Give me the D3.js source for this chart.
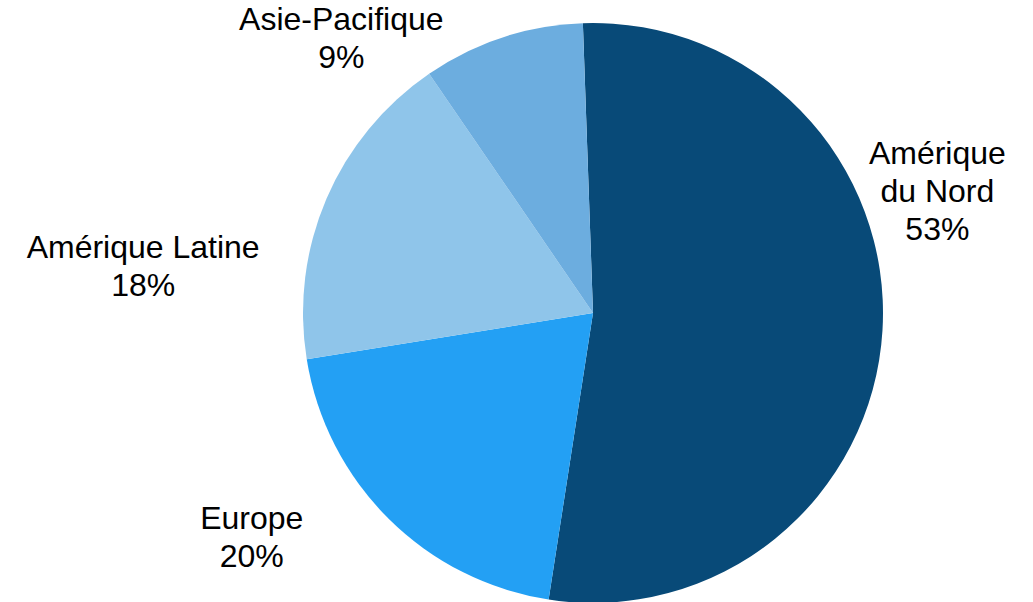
<!DOCTYPE html>
<html>
<head>
<meta charset="utf-8">
<script src="https://cdn.jsdelivr.net/npm/d3@7"></script>
<style>
  body { margin: 0; background: #fff; }
  svg { display: block; }
</style>
</head>
<body>
<script>
// regions and share of total (%)
var regions = ["Amérique du Nord", "Europe", "Amérique Latine", "Asie-Pacifique"];
var shares = [53, 20, 18, 9];
var labelLines = [["Amérique", "du Nord"], ["Europe"], ["Amérique Latine"], ["Asie-Pacifique"]];
var colors = ["#084a78", "#23a0f4", "#8fc5ea", "#6caddf"];

var width = 1033, height = 602;
var cx = 593, cy = 313, radius = 290;
var startDeg = -2;

// where the labels sit, relative to the mid-angle point on the label ring
var labelRadius = 348;
var labelNudge = [[-3, -143], [-96, -23], [-130, 90], [-143, 55]];
var lineH = 38, capH = 23;

var svg = d3.select("body").append("svg").attr("width", width).attr("height", height);

var data = regions.map(function (r, i) { return { region: r, value: shares[i], i: i }; });

var pie = d3.pie()
  .value(function (d) { return d.value; })
  .sort(null)
  .startAngle(startDeg * Math.PI / 180)
  .endAngle((startDeg + 360) * Math.PI / 180);

var arc = d3.arc().innerRadius(0).outerRadius(radius);
var labelArc = d3.arc().innerRadius(labelRadius).outerRadius(labelRadius);

var g = svg.append("g").attr("transform", "translate(" + cx + "," + cy + ")");

var arcs = pie(data);

g.selectAll("path").data(arcs).enter().append("path")
  .attr("d", arc)
  .attr("fill", function (d) { return colors[d.data.i]; });

var labels = g.selectAll("text.lbl").data(arcs).enter().append("text")
  .attr("class", "lbl")
  .attr("text-anchor", "middle")
  .style("font-family", "'Liberation Sans', Arial, Helvetica, sans-serif")
  .style("font-size", "32px")
  .attr("fill", "#000")
  .attr("transform", function (d) {
    var c = labelArc.centroid(d);
    var n = labelNudge[d.data.i];
    return "translate(" + (c[0] + n[0]) + "," + (c[1] + n[1]) + ")";
  });

labels.each(function (d) {
  var lines = labelLines[d.data.i].concat([d.data.value + "%"]);
  var first = -(lines.length - 1) * lineH / 2 + capH / 2;
  var t = d3.select(this);
  lines.forEach(function (s, k) {
    t.append("tspan").attr("x", 0).attr("y", first + k * lineH).text(s);
  });
});
</script>
</body>
</html>
